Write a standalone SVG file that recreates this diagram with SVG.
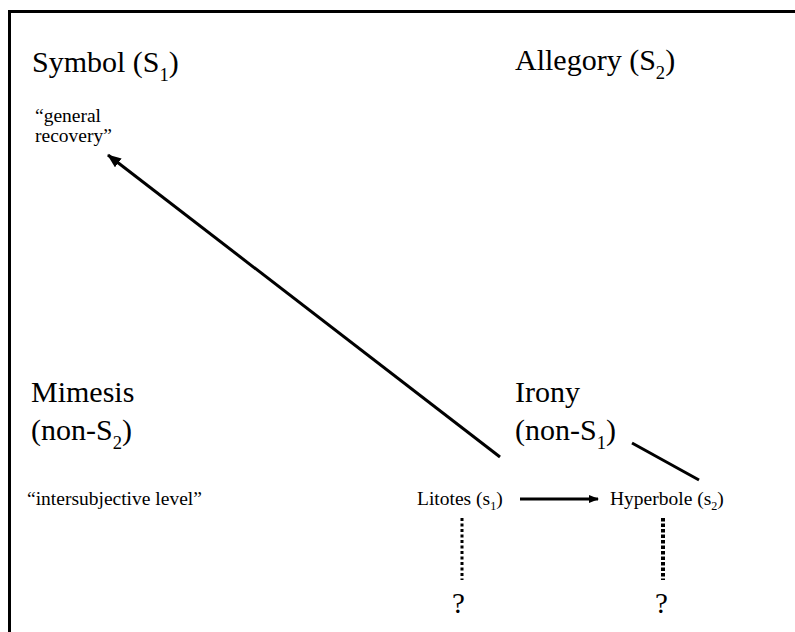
<svg xmlns="http://www.w3.org/2000/svg" width="795" height="632" viewBox="0 0 795 632">
<style>
.big{font-family:"Liberation Serif","Times New Roman",serif;font-size:30px;fill:#000}
.sm{font-family:"Liberation Serif","Times New Roman",serif;font-size:19.5px;fill:#000}
.q{font-family:"Liberation Serif","Times New Roman",serif;font-size:29px;fill:#000}
.sub{font-size:0.62em}
.ln{stroke:#000;stroke-width:3;fill:none}
.dot{stroke:#000;fill:none}
</style>
<defs>
<marker id="ah" markerWidth="10" markerHeight="8" refX="9" refY="4" orient="auto" markerUnits="userSpaceOnUse">
<path d="M0,0 L10,4 L0,8 z" fill="#000"/>
</marker>
<marker id="ah2" markerWidth="14" markerHeight="11" refX="13" refY="5.5" orient="auto" markerUnits="userSpaceOnUse">
<path d="M0,0 L14,5.5 L0,11 z" fill="#000"/>
</marker>
</defs>
<rect x="0" y="0" width="795" height="632" fill="#fff"/>
<path d="M9.5,640 L9.5,11.5 L800,11.5" class="ln"/>
<g id="symbol">
<text class="big" x="32" y="72">Symbol (S<tspan class="sub" dy="9">1</tspan><tspan dy="-9">)</tspan></text>
<text class="sm" x="35" y="122">“general</text>
<text class="sm" x="35" y="142">recovery”</text>
</g>
<g id="allegory">
<text class="big" x="515" y="70">Allegory (S<tspan class="sub" dy="9">2</tspan><tspan dy="-9">)</tspan></text>
</g>
<g id="mimesis">
<text class="big" x="31" y="402">Mimesis</text>
<text class="big" x="31" y="440">(non-S<tspan class="sub" dy="9">2</tspan><tspan dy="-9">)</tspan></text>
<text class="sm" x="27" y="505">“intersubjective level”</text>
</g>
<g id="irony">
<text class="big" x="515" y="402">Irony</text>
<text class="big" x="515" y="440">(non-S<tspan class="sub" dy="9">1</tspan><tspan dy="-9">)</tspan></text>
</g>
<g id="litotes">
<text class="sm" x="417" y="505">Litotes (s<tspan class="sub" dy="5">1</tspan><tspan dy="-5">)</tspan></text>
</g>
<g id="hyperbole">
<text class="sm" x="610" y="505">Hyperbole (s<tspan class="sub" dy="5">2</tspan><tspan dy="-5">)</tspan></text>
</g>
<g id="q1"><text class="q" x="452" y="613">?</text></g>
<g id="q2"><text class="q" x="655" y="613">?</text></g>
<g id="connectors">
<line x1="500" y1="457" x2="108" y2="155" class="ln" marker-end="url(#ah2)"/>
<line x1="632" y1="443" x2="699" y2="480" class="ln"/>
<line x1="520" y1="499" x2="598" y2="499" class="ln" marker-end="url(#ah)"/>
<line x1="462" y1="518" x2="462" y2="580" class="dot" stroke-width="3" stroke-dasharray="3,2.5"/>
<line x1="663" y1="518" x2="663" y2="580" class="dot" stroke-width="4" stroke-dasharray="3.5,2"/>
</g>
</svg>
